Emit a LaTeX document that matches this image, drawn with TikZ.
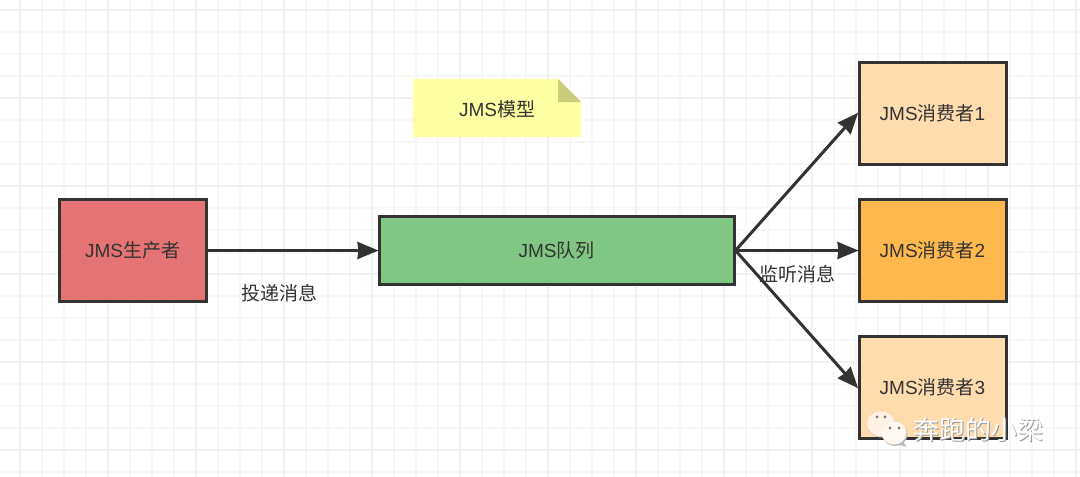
\documentclass[tikz,border=0pt]{standalone}
\usepackage{fontspec}
\setmainfont{Liberation Sans}
\newfontfamily\cjk{Noto Sans CJK SC}
\usetikzlibrary{arrows.meta}
\definecolor{inkdark}{HTML}{333333}
\definecolor{gridminor}{HTML}{F7F7F7}
\definecolor{gridmajor}{HTML}{F1F1F1}
\definecolor{prodred}{HTML}{E57373}
\definecolor{queuegreen}{HTML}{7FC782}
\definecolor{conslight}{HTML}{FFDCAE}
\definecolor{consdark}{HTML}{FFB84D}
\definecolor{noteyellow}{HTML}{FFFFA3}
\definecolor{notefold}{HTML}{CBCB7C}
\tikzset{
  box/.style={draw=inkdark,line width=3pt,inner sep=0pt,text=inkdark,font=\fontsize{19}{23}\selectfont},
  flow/.style={draw=inkdark,line width=3pt,-{Stealth[length=21pt,width=17pt,inset=1pt]},shorten >=-1pt},
  lbl/.style={inner sep=0pt,text=inkdark,font=\fontsize{19}{23}\selectfont\cjk},
  mark text/.style={inner sep=0pt,font=\fontsize{26}{30}\selectfont\cjk}
}
\begin{document}
\begin{tikzpicture}[x=1pt,y=-1pt]
  \useasboundingbox (0,0) rectangle (1080,477);
  \fill[white] (0,0) rectangle (1080,477);
  % background grid
  \foreach \gx in {20,42,...,1080} \draw[gridminor,line width=2pt] (\gx,0) -- (\gx,477);
  \foreach \gy in {10,32,...,477} \draw[gridminor,line width=2pt] (0,\gy) -- (1080,\gy);
  \foreach \gx in {20,108,...,1080} \draw[gridmajor,line width=2pt] (\gx,0) -- (\gx,477);
  \foreach \gy in {10,98,...,477} \draw[gridmajor,line width=2pt] (0,\gy) -- (1080,\gy);
  % note with folded corner
  \fill[noteyellow] (413,79) -- (558,79) -- (581,102) -- (581,137) -- (413,137) -- cycle;
  \fill[notefold] (558,79) -- (581,102) -- (558,102) -- cycle;
  \node[lbl] (model) at (497,109.5) {{\fontspec{Liberation Sans}JMS}模型};
  % boxes
  \node[box,fill=prodred,minimum width=147pt,minimum height=102pt] (producer) at (132.5,250.5) {JMS{\cjk 生产者}};
  \node[box,fill=queuegreen,minimum width=355pt,minimum height=68pt] (queue) at (556.5,250.5) {JMS{\cjk 队列}};
  \node[box,fill=conslight,minimum width=147pt,minimum height=102pt] (consumerA) at (932.5,113.5) {JMS{\cjk 消费者}1};
  \node[box,fill=consdark,minimum width=147pt,minimum height=102pt] (consumerB) at (932.5,250.5) {JMS{\cjk 消费者}2};
  \node[box,fill=conslight,minimum width=147pt,minimum height=102pt] (consumerC) at (932.5,387.5) {JMS{\cjk 消费者}3};
  % arrows
  \draw[flow] (producer) -- (queue);
  \draw[flow] (queue.east) -- (consumerA.west);
  \draw[flow] (queue.east) -- (consumerB.west);
  \draw[flow] (queue.east) -- (consumerC.west);
  \node[lbl] (send) at (279,293) {投递消息};
  \node[lbl] (listen) at (797,274) {监听消息};
  % watermark
  \fill[gray!55] (881.5,425) ellipse (14 and 12.5);
  \fill[white!90!orange] (881,424) ellipse (14 and 12.5);
  \fill[gray!55] (895,434.5) ellipse (12.5 and 11.5);
  \fill[gray!55] (892,442) -- (906,447) -- (902,438) -- cycle;
  \fill[white!94!orange] (894,433) ellipse (12.5 and 11.5);
  \foreach \dx/\dy in {877/417,885/417,890/428,899/428} \fill[gray] (\dx,\dy) circle (1.6);
  \node[mark text,text=gray!80] (markshadow) at (979,431) {奔跑的小梁};
  \node[mark text,text=white] (marktext) at (978,430) {奔跑的小梁};
\end{tikzpicture}
\end{document}
